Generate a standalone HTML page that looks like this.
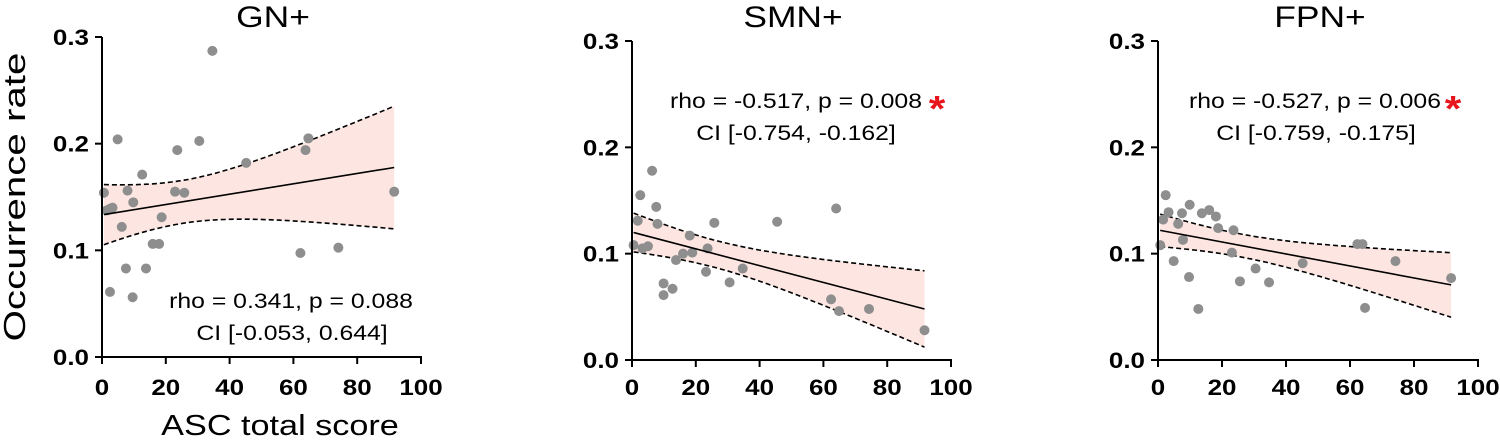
<!DOCTYPE html>
<html><head><meta charset="utf-8"><style>
html,body{margin:0;padding:0;background:#fff;}
svg{display:block;font-family:"Liberation Sans",Arial,sans-serif;}
</style></head><body>
<svg id="chart" width="1500" height="444" viewBox="0 0 1500 444"></svg>
<script>
const titles = ["GN+", "SMN+", "FPN+"];
const xTicks = [0, 20, 40, 60, 80, 100];
const yTicks = [0.0, 0.1, 0.2, 0.3];
const yTickLabels = ["0.0", "0.1", "0.2", "0.3"];
const statLine1 = ["rho = 0.341, p = 0.088", "rho = -0.517, p = 0.008", "rho = -0.527, p = 0.006"];
const statLine2 = ["CI [-0.053, 0.644]", "CI [-0.754, -0.162]", "CI [-0.759, -0.175]"];
const significant = [false, true, true];
const gnX = [0.6,1.5,2.5,3.3,2.5,4.9,6.2,7.5,8.0,9.6,9.8,12.6,13.8,15.9,17.9,18.7,22.9,23.6,25.8,30.5,34.6,45.2,62.2,63.8,64.7,74.1,91.6];
const gnY = [0.154,0.1375,0.139,0.140,0.061,0.204,0.122,0.083,0.156,0.056,0.145,0.171,0.083,0.106,0.106,0.131,0.155,0.194,0.154,0.2025,0.287,0.182,0.0975,0.194,0.205,0.1025,0.155];
const smnX = [0.5,1.8,2.6,3.3,5.0,6.3,7.6,8.0,9.9,9.9,12.7,13.8,16.0,18.1,18.9,23.2,23.7,25.8,30.6,34.7,45.5,62.4,64.0,64.9,74.3,91.7];
const smnY = [0.108,0.131,0.155,0.105,0.107,0.178,0.144,0.128,0.072,0.061,0.067,0.094,0.100,0.117,0.101,0.083,0.105,0.129,0.073,0.086,0.130,0.057,0.1425,0.046,0.048,0.028];
const fpnX = [0.7,1.6,2.4,3.3,4.9,6.3,7.5,7.8,9.7,9.9,12.6,13.7,16.0,18.1,18.8,23.1,23.6,25.6,30.5,34.7,45.2,62.3,63.9,64.7,74.2,91.6];
const fpnY = [0.108,0.132,0.155,0.139,0.093,0.128,0.138,0.113,0.078,0.146,0.048,0.138,0.141,0.135,0.124,0.101,0.122,0.074,0.086,0.073,0.091,0.109,0.109,0.049,0.093,0.077];

const seriesX = [gnX, smnX, fpnX];
const seriesY = [gnY, smnY, fpnY];
const panels = [
  {x0:102, x1:421, yb:357, yt:37, tx:273, s1:[291,308], s2:[292,340], star:null},
  {x0:632, x1:951, yb:360, yt:41, tx:793, s1:[796,108], s2:[796,140], star:937},
  {x0:1158, x1:1478, yb:360, yt:41, tx:1320, s1:[1315,108], s2:[1316,140], star:1453}
];
const SX = 1.18;
const NS = "http://www.w3.org/2000/svg";
const svg = document.getElementById("chart");
function mk(tag, attrs, parent){
  const e = document.createElementNS(NS, tag);
  for (const k in attrs) e.setAttribute(k, attrs[k]);
  (parent||svg).appendChild(e);
  return e;
}
function txt(str, x, y, attrs, parent){
  attrs.transform = "translate(" + x + "," + y + ") scale(" + SX + ",1)";
  const t = mk("text", attrs, parent); t.textContent = str; return t;
}

const yt = mk("text", {x:0, y:0, "font-size":31, "text-anchor":"middle", transform:"translate(25,197) rotate(-90) scale(1.3,1)"});
yt.textContent = "Occurrence rate";


const xt = txt("ASC total score", 280, 435, {"font-size":29, "text-anchor":"middle"});



panels.forEach((p, i) => {
  const g = mk("g", {});
  
  
  const X = v => p.x0 + (p.x1 - p.x0) * v / 100;
  const Y = v => p.yb - (p.yb - p.yt) * v / 0.3;
  const xs = seriesX[i], ys = seriesY[i], n = xs.length;
  const mx = xs.reduce((a,b)=>a+b,0)/n, my = ys.reduce((a,b)=>a+b,0)/n;
  let sxx=0, sxy=0;
  for (let k=0;k<n;k++){ sxx += (xs[k]-mx)**2; sxy += (xs[k]-mx)*(ys[k]-my); }
  const b = sxy/sxx, a = my - b*mx;
  let sse=0; for (let k=0;k<n;k++) sse += (ys[k]-a-b*xs[k])**2;
  const s = Math.sqrt(sse/(n-2)), tcrit = 2.06;
  const xmin = Math.min(...xs), xmax = Math.max(...xs);
  const up=[], lo=[], fit=[];
  for (let k=0;k<=60;k++){
    const xv = xmin + (xmax-xmin)*k/60;
    const yh = a + b*xv;
    const hw = tcrit*s*Math.sqrt(1/n + (xv-mx)**2/sxx);
    up.push([X(xv), Y(yh+hw)]); lo.push([X(xv), Y(yh-hw)]); fit.push([X(xv),Y(yh)]);
  }
  const pts = arr => arr.map(q=>q[0].toFixed(1)+","+q[1].toFixed(1)).join(" ");
  const band = mk("polygon", {points: pts(up) + " " + pts(lo.slice().reverse()), fill:"#fde6e1", stroke:"none"}, g);
  
  
  const u = mk("polyline", {points: pts(up), fill:"none", stroke:"#000", "stroke-width":1.6, "stroke-dasharray":"5,3"}, g);
  
  
  const l = mk("polyline", {points: pts(lo), fill:"none", stroke:"#000", "stroke-width":1.6, "stroke-dasharray":"5,3"}, g);
  
  
  for (let k=0;k<n;k++){
    const c = mk("circle", {cx:X(xs[k]), cy:Y(ys[k]), r:5, fill:"#8e8e8e"}, g);
    
    
  }
  const f = mk("polyline", {points: pts([fit[0], fit[60]]), fill:"none", stroke:"#000", "stroke-width":1.6}, g);
  
  
  const ya = mk("line", {x1:p.x0, y1:p.yt, x2:p.x0, y2:p.yb+1, stroke:"#000", "stroke-width":2}, g);
  
  
  const xa = mk("line", {x1:p.x0-1, y1:p.yb, x2:p.x1+1, y2:p.yb, stroke:"#000", "stroke-width":2}, g);
  
  
  yTicks.forEach((v, j) => {
    mk("line", {x1:p.x0-7, y1:Y(v), x2:p.x0, y2:Y(v), stroke:"#000", "stroke-width":2}, g);
    const t = txt(yTickLabels[j], p.x0-13, Y(v)+8, {"font-size":22, "font-weight":"bold", "text-anchor":"end"}, g);
    
    
  });
  xTicks.forEach(v => {
    mk("line", {x1:X(v), y1:p.yb, x2:X(v), y2:p.yb+7, stroke:"#000", "stroke-width":2}, g);
    const t = txt(String(v), X(v), 395, {"font-size":22, "font-weight":"bold", "text-anchor":"middle"}, g);
    
    
  });
  const ti = txt(titles[i], p.tx, 27, {"font-size":30, "text-anchor":"middle"}, g);
  
  
  const s1 = txt(statLine1[i], p.s1[0], p.s1[1], {"font-size":21, "text-anchor":"middle"}, g);
  
  
  const s2 = txt(statLine2[i], p.s2[0], p.s2[1], {"font-size":21, "text-anchor":"middle"}, g);
  
  
  if (significant[i]) {
    const st = txt("*", p.star, p.s1[1]+13, {"font-size":36, "font-weight":"bold", fill:"#e8141c", "text-anchor":"middle"}, g);
    
    
  }
});
</script>
</body></html>
